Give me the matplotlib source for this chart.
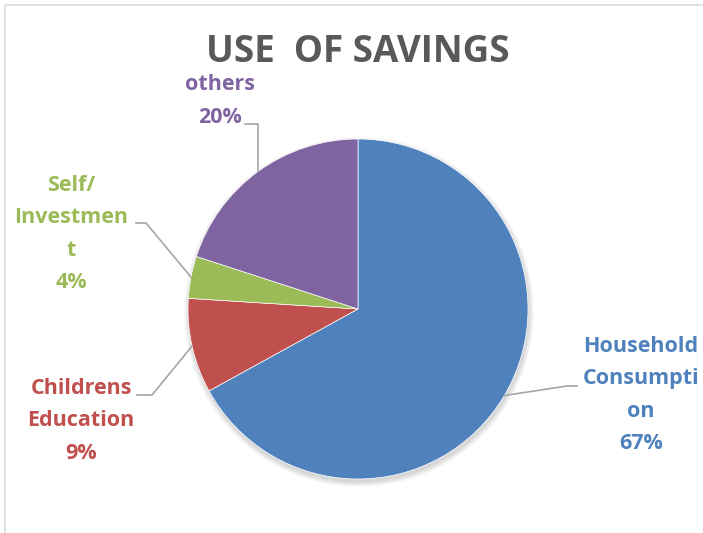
import numpy as np
import matplotlib
matplotlib.use("Agg")
import matplotlib.pyplot as plt
from matplotlib.patches import Circle

# canvas in pixels, y measured from the top
W, H = 703, 533

labels = ["Household\nConsumpti\non", "Childrens\nEducation", "Self/\nInvestmen\nt", "others"]
shares = [67, 9, 4, 20]
colors = ["#4F81BD", "#C0504D", "#9BBB59", "#8064A2"]

# label block centres and leader-line start points (pixels from top-left)
label_pos = [(641, 395), (81, 421), (71, 234), (220, 101)]
leader_start = [(577, 386), (137, 395), (136, 223), (245, 124)]
leader_knee = [(567, 386), (152, 395), (146, 223), (None, 124)]

CX, CY, R = 358, 309, 170
FONT = "Open Sans"


def py(y):
    return H - y


fig = plt.figure(figsize=(W / 100, H / 100), dpi=100)
ax = fig.add_axes([0, 0, 1, 1])
ax.set_xlim(0, W)
ax.set_ylim(0, H)
ax.set_aspect("equal")
ax.axis("off")

# chart area border (only top and left edges fall inside the frame)
ax.plot([5, 5], [py(5), py(H + 5)], color="#D9D9D9", lw=1.2, solid_capstyle="butt")
ax.plot([5, W + 5], [py(5), py(5)], color="#D9D9D9", lw=1.2, solid_capstyle="butt")

# soft drop shadow under the pie
for k in range(8):
    ax.add_patch(Circle((CX + 1, py(CY + 3)), R + 5 - k * 0.7, color="black",
                        alpha=0.018, lw=0, zorder=1))

wedges, _ = ax.pie(shares, colors=colors, startangle=90, counterclock=False,
                   radius=R, center=(CX, py(CY)), frame=True,
                   wedgeprops=dict(edgecolor="white", linewidth=0.5))
for w in wedges:
    w.set_zorder(2)
ax.set_xlim(0, W)
ax.set_ylim(0, H)
ax.axis("off")

ax.text(CX, py(52), "USE  OF SAVINGS", ha="center", va="center",
        fontsize=26.5, fontweight="bold", color="#595959", family=FONT)

for w, lab, val, col, (tx, ty), (sx, sy), (kx, ky) in zip(
        wedges, labels, shares, colors, label_pos, leader_start, leader_knee):
    mid = np.deg2rad((w.theta1 + w.theta2) / 2)
    ex = CX + R * np.cos(mid)
    ey = py(CY) + R * np.sin(mid)
    if kx is None:
        kx = ex
    ax.plot([sx, kx, ex], [py(sy), py(ky), ey], color="#A6A6A6", lw=1.2, zorder=3)
    ax.text(tx, py(ty), f"{lab}\n{val}%", ha="center", va="center",
            fontsize=15.5, fontweight="bold", color=col, family=FONT,
            linespacing=1.72)

fig.savefig("out.png", dpi=100)
